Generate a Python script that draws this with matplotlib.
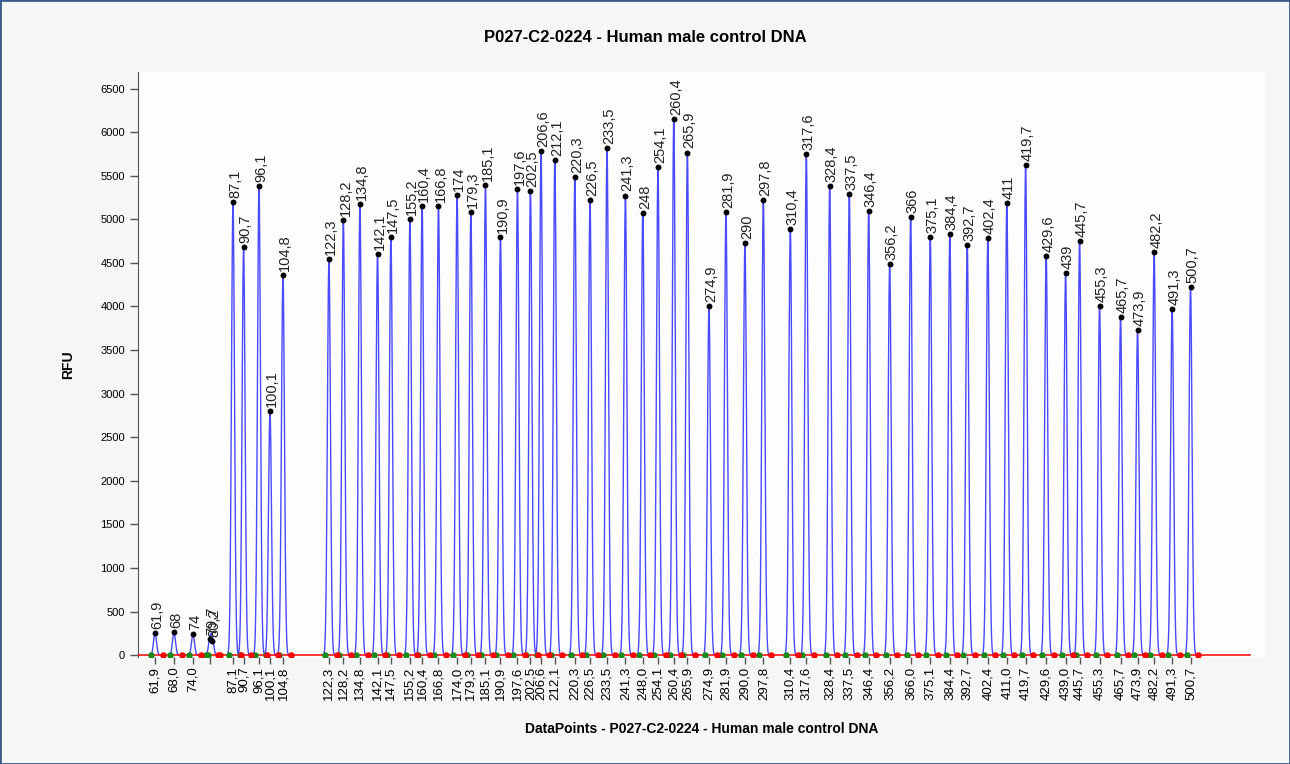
import numpy as np
import matplotlib
matplotlib.use("Agg")
import matplotlib.pyplot as plt
from matplotlib.patches import Rectangle

plt.rcParams['font.family'] = ['Liberation Sans', 'DejaVu Sans']

# Fragment sizes (nt) des pics détectés
sizes = [61.9, 68.0, 74.0, 79.7, 80.2, 87.1, 90.7, 96.1, 100.1, 104.8,
         122.3, 128.2, 134.8, 142.1, 147.5, 155.2, 160.4, 166.8, 174.0, 179.3,
         185.1, 190.9, 197.6, 202.5, 206.6, 212.1, 220.3, 226.5, 233.5, 241.3,
         248.0, 254.1, 260.4, 265.9, 274.9, 281.9, 290.0, 297.8, 310.4, 317.6,
         328.4, 337.5, 346.4, 356.2, 366.0, 375.1, 384.4, 392.7, 402.4, 411.0,
         419.7, 429.6, 439.0, 445.7, 455.3, 465.7, 473.9, 482.2, 491.3, 500.7]

# Position des pics (data points)
positions = [85, 180, 275, 360, 372, 475, 528, 605, 660, 725,
             955, 1027, 1110, 1198, 1265, 1360, 1421, 1503, 1596, 1665,
             1738, 1813, 1898, 1963, 2016, 2085, 2185, 2261, 2346, 2438,
             2525, 2601, 2680, 2748, 2856, 2941, 3036, 3128, 3263, 3343,
             3460, 3558, 3655, 3760, 3865, 3963, 4061, 4148, 4251, 4346,
             4440, 4543, 4640, 4710, 4810, 4915, 5000, 5083, 5173, 5265]

# Hauteur des pics (RFU)
heights = [252, 264, 241, 183, 160, 5201, 4677, 5377, 2797, 4364,
           4543, 4995, 5178, 4605, 4792, 5006, 5151, 5155, 5277, 5087,
           5388, 4792, 5342, 5327, 5781, 5678, 5480, 5220, 5820, 5273,
           5071, 5598, 6153, 5766, 4009, 5082, 4727, 5224, 4884, 5751,
           5380, 5288, 5098, 4490, 5021, 4796, 4830, 4708, 4788, 5185,
           5625, 4578, 4379, 4754, 4009, 3878, 3734, 4628, 3970, 4222]

# pics sans graduation sur l'axe X / graduation sans étiquette
no_tick = [80.2]
no_label = [79.7]

title = "P027-C2-0224 - Human male control DNA"


def fmt_size(v, fixed=False):
    s = f"{v:.1f}" if fixed or v != int(v) else f"{int(v)}"
    return s.replace('.', ',')


fig = plt.figure(figsize=(12.9, 7.64), dpi=100, facecolor='#f6f6f6')
ax = fig.add_axes([0.107, 0.1401, 0.874, 0.7657])
ax.set_facecolor('#fdfdfd')

# Trace de l'électrophorégramme reconstruite à partir des pics
xs = np.arange(0, 5570, 1.0)
trace = np.zeros_like(xs)
for p, h in zip(positions, heights):
    trace += h * np.exp(-0.5 * ((xs - p) / 7.5) ** 2)
trace[trace < 3] = np.nan
ax.plot(xs, trace, color='#2a2aff', lw=1.0, alpha=0.85, zorder=2)

# ligne de base
ax.plot([0, 5565], [0, 0], color='red', lw=1.1, zorder=3)

# début (vert) et fin (rouge) des pics
pos = np.array(positions)
ax.scatter(pos - 20, np.zeros_like(pos), s=22, color='#1a8a1a', zorder=4, linewidths=0)
ax.scatter(pos + 38, np.zeros_like(pos), s=22, color='red', zorder=4, linewidths=0)

# sommets des pics + étiquettes
ax.scatter(positions, heights, s=18, color='black', zorder=5, linewidths=0)
for p, h, s in zip(positions, heights, sizes):
    ax.annotate(fmt_size(s), (p, h), xytext=(1.5, 3), textcoords='offset points',
                rotation=90, ha='center', va='bottom', fontsize=10.5, color='#222222')

ax.set_xlim(0, 5640)
ax.set_ylim(-20, 6690)
ax.set_yticks(np.arange(0, 6501, 500))
ax.tick_params(axis='y', labelsize=8, length=6, color='#555555', width=1)

tick_pos = [p for p, s in zip(positions, sizes) if s not in no_tick]
tick_lab = ["" if s in no_label else fmt_size(s, fixed=True)
            for s in sizes if s not in no_tick]
ax.set_xticks(tick_pos)
ax.set_xticklabels(tick_lab, rotation=90, fontsize=9.5)
ax.tick_params(axis='x', length=5, color='#555555', width=1, pad=2)

for side in ['top', 'right', 'bottom']:
    ax.spines[side].set_visible(False)
ax.spines['left'].set_color('#555555')

ax.set_ylabel("RFU", fontsize=10, fontweight='bold', labelpad=18)
ax.set_xlabel("DataPoints - " + title, fontsize=10, fontweight='bold', labelpad=16)
fig.text(0.5, 0.951, title, ha='center', va='center', fontsize=12, fontweight='bold')

fig.patches.append(Rectangle((0, 0), 1, 1, transform=fig.transFigure, fill=False,
                             edgecolor='#3b5b8c', lw=2))

fig.savefig("out.png", dpi=100, facecolor=fig.get_facecolor())
